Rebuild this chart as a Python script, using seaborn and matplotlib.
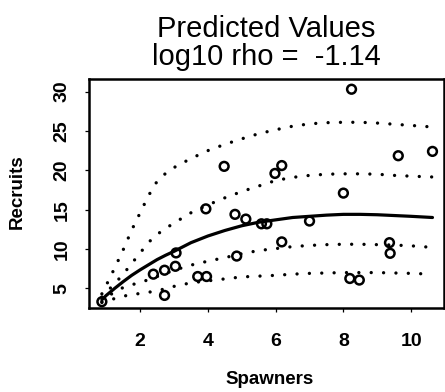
import matplotlib
matplotlib.use("Agg")
import matplotlib.pyplot as plt
import seaborn as sns
import pandas as pd

# ---- data ----
spawners = [0.87, 2.72, 2.39, 2.72, 3.04, 3.06, 3.70, 3.96, 3.94, 4.48,
            4.85, 4.80, 5.12, 5.58, 5.74, 5.98, 6.18, 6.18, 7.00, 8.00,
            8.24, 8.19, 8.47, 9.36, 9.38, 9.62, 10.63]
recruits = [3.3, 4.1, 6.8, 7.3, 7.8, 9.5, 6.5, 6.5, 15.1, 20.5,
            9.1, 14.4, 13.8, 13.2, 13.2, 19.6, 20.6, 10.9, 13.55, 17.1,
            30.3, 6.25, 6.05, 10.8, 9.45, 21.85, 22.4]

curve_s = [0.87, 1.0, 1.25, 1.5, 1.75, 2.0, 2.25, 2.5, 2.75, 3.0, 3.5, 4.0,
           4.5, 5.0, 5.5, 6.0, 6.5, 7.0, 7.5, 8.0, 8.5, 9.0, 9.5, 10.0, 10.63]
mean_r = [3.55, 4.1, 5.0, 5.85, 6.65, 7.35, 8.0, 8.65, 9.2, 9.7, 10.8, 11.65,
          12.35, 12.95, 13.4, 13.7, 14.0, 14.15, 14.3, 14.4, 14.4, 14.35, 14.25, 14.15, 14.0]
upper_outer = [4.3, 5.4, 7.6, 9.9, 12.4, 14.6, 16.8, 18.6, 19.6, 20.35, 21.5, 22.5,
               23.3, 24.0, 24.65, 25.15, 25.6, 25.9, 26.05, 26.1, 26.1, 26.0, 25.85, 25.7, 25.5]
upper_inner = [3.9, 4.5, 5.6, 6.8, 8.15, 9.5, 10.85, 11.85, 12.6, 13.3, 14.6, 15.6,
               16.5, 17.3, 18.0, 18.7, 19.1, 19.35, 19.5, 19.55, 19.55, 19.5, 19.35, 19.25, 19.15]
lower_inner = [3.3, 3.75, 4.6, 5.1, 5.45, 5.75, 6.1, 6.5, 6.9, 7.3, 7.95, 8.45,
               8.9, 9.4, 9.8, 10.05, 10.3, 10.45, 10.55, 10.6, 10.6, 10.55, 10.5, 10.4, 10.2]
lower_outer = [3.2, 3.4, 3.7, 4.0, 4.2, 4.35, 4.5, 4.7, 4.95, 5.25, 5.7, 5.95,
               6.2, 6.45, 6.55, 6.65, 6.8, 6.9, 6.95, 7.0, 7.0, 7.0, 6.95, 6.9, 6.8]

x_ticks = [2, 4, 6, 8, 10]
y_ticks = [5, 10, 15, 20, 25, 30]
title_text = "Predicted Values\nlog10 rho =  -1.14"
x_label = "Spawners"
y_label = "Recruits"

# ---- style ----
sns.set_theme(style="ticks")
plt.rcParams['font.family'] = ['Liberation Sans', 'DejaVu Sans']
plt.rcParams['text.color'] = 'black'
plt.rcParams['axes.labelcolor'] = 'black'
plt.rcParams['xtick.color'] = 'black'
plt.rcParams['ytick.color'] = 'black'

fig = plt.figure(figsize=(4.45, 3.92), dpi=100)
ax = fig.add_axes([89 / 445, 1 - 308 / 392, 355 / 445, 229 / 392])
ax.set_facecolor("white")

curves = pd.DataFrame({"S": curve_s, "mean": mean_r, "uo": upper_outer,
                       "ui": upper_inner, "li": lower_inner, "lo": lower_outer})

dot_style = (0, (0.01, 3.7))
for col in ["uo", "ui", "li", "lo"]:
    sns.lineplot(data=curves, x="S", y=col, ax=ax, color="black", lw=2.4,
                 linestyle=dot_style, dash_capstyle="round", estimator=None)
sns.lineplot(data=curves, x="S", y="mean", ax=ax, color="black", lw=2.3,
             estimator=None, solid_capstyle="round")

pts = pd.DataFrame({"S": spawners, "R": recruits})
sns.scatterplot(data=pts, x="S", y="R", ax=ax, marker="o", s=40,
                facecolors="none", edgecolors="black", linewidth=1.8, zorder=5)

ax.set_xlim(0.49, 10.97)
ax.set_ylim(2.5, 31.6)

ax.set_xticks(x_ticks, labels=[str(t) for t in x_ticks], fontsize=14,
              fontweight="bold", color="black")
ax.set_yticks(y_ticks, labels=[str(t) for t in y_ticks], fontsize=14,
              fontweight="bold", color="black", rotation=90, va="center")
ax.tick_params(axis="both", direction="out", length=3, width=0.9,
               color="black", labelcolor="black")
ax.tick_params(axis="x", pad=15)
ax.tick_params(axis="y", pad=10.5)

for sp in ax.spines.values():
    sp.set_visible(True)
    sp.set_linewidth(1.8)
    sp.set_color("black")

ax.set_title(title_text, fontsize=21, linespacing=1.0, pad=10, color="black")
ax.set_xlabel(x_label, fontsize=13.5, fontweight="bold", color="black")
ax.set_ylabel(y_label, fontsize=13.5, fontweight="bold", color="black")
ax.xaxis.set_label_coords(0.51, -0.277)
ax.yaxis.set_label_coords(-0.177, 0.509)

fig.savefig("out.png", dpi=100)
